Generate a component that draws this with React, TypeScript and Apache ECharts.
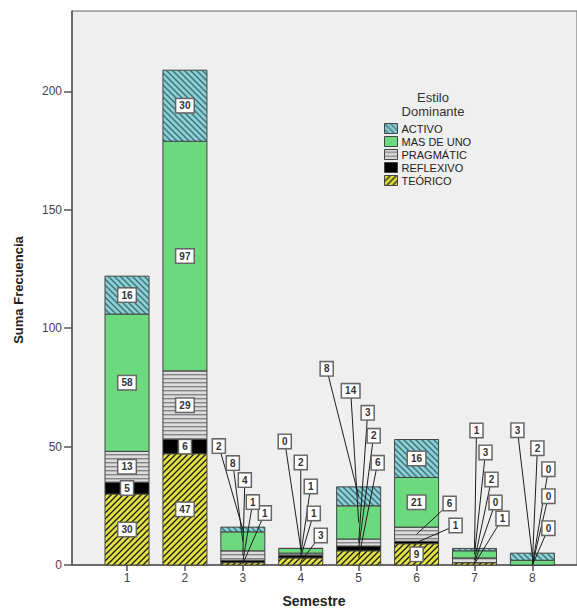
import React, { useEffect, useRef } from "react";
import * as echarts from "echarts";

// ---- data ----
const semesters = [1, 2, 3, 4, 5, 6, 7, 8];
const seriesNames = ["TEÓRICO", "REFLEXIVO", "PRAGMÁTIC", "MAS DE UNO", "ACTIVO"];
const teorico = [30, 47, 1, 3, 6, 9, 1, 0];
const reflexivo = [5, 6, 1, 1, 2, 1, 0, 0];
const pragmatic = [13, 29, 4, 1, 3, 6, 2, 0];
const masDeUno = [58, 97, 8, 2, 14, 21, 3, 2];
const activo = [16, 30, 2, 0, 8, 16, 1, 3];
const yTicks = [0, 50, 100, 150, 200];
const legendOrder = ["ACTIVO", "MAS DE UNO", "PRAGMÁTIC", "REFLEXIVO", "TEÓRICO"];

// ---- layout of callout labels (pixel offsets from bar top), keyed "semester-seriesIndex" ----
const calloutOffsets: Record<string, [number, number]> = {
  "3-0": [22, -14], "3-1": [10, -25], "3-2": [2, -47], "3-3": [-10, -64], "3-4": [-24, -81],
  "4-0": [20, -13], "4-1": [13, -35], "4-2": [10, -62], "4-3": [0, -86], "4-4": [-16, -107],
  "5-0": [19, -24], "5-1": [15, -51], "5-2": [9, -74], "5-3": [-8, -96], "5-4": [-32, -118],
  "6-1": [39, 86], "6-2": [33, 64],
  "7-0": [28, -30], "7-1": [21, -46], "7-2": [17, -69], "7-3": [11, -96], "7-4": [2, -118],
  "8-0": [16, -25], "8-1": [16, -57], "8-2": [16, -84], "8-3": [5, -105], "8-4": [-15, -123],
};

const FONT = '"Liberation Sans", Arial, sans-serif';
const BAR_WIDTH_UNITS = 0.76;

function tile(w: number, h: number, draw: (ctx: CanvasRenderingContext2D) => void) {
  const c = document.createElement("canvas");
  c.width = w;
  c.height = h;
  const ctx = c.getContext("2d") as CanvasRenderingContext2D;
  draw(ctx);
  return { image: c, repeat: "repeat", imageWidth: w, imageHeight: h } as any;
}

const boxStyle = {
  fill: "#333333",
  fontSize: 10,
  fontWeight: "bold",
  fontFamily: FONT,
  backgroundColor: "#ffffff",
  borderColor: "#666666",
  borderWidth: 1.5,
  padding: [2, 3, 1, 3],
  align: "center",
  verticalAlign: "middle",
};

export default function App() {
  const ref = useRef<HTMLDivElement>(null);

  useEffect(() => {
    if (!ref.current) return;
    const chart = echarts.init(ref.current, undefined, { renderer: "svg" });

    const yellowHatch = tile(6, 6, (ctx) => {
      ctx.fillStyle = "#e2e246";
      ctx.fillRect(0, 0, 6, 6);
      ctx.strokeStyle = "#1a1a10";
      ctx.lineWidth = 1.3;
      ctx.beginPath();
      ctx.moveTo(-1, 7); ctx.lineTo(7, -1);
      ctx.moveTo(-1, 1); ctx.lineTo(1, -1);
      ctx.moveTo(5, 7); ctx.lineTo(7, 5);
      ctx.stroke();
    });
    const tealHatch = tile(6, 6, (ctx) => {
      ctx.fillStyle = "#8ccfd6";
      ctx.fillRect(0, 0, 6, 6);
      ctx.strokeStyle = "#3f7378";
      ctx.lineWidth = 1.4;
      ctx.beginPath();
      ctx.moveTo(-1, -1); ctx.lineTo(7, 7);
      ctx.moveTo(-1, 5); ctx.lineTo(1, 7);
      ctx.moveTo(5, -1); ctx.lineTo(7, 1);
      ctx.stroke();
    });
    const grayLines = tile(4, 4, (ctx) => {
      ctx.fillStyle = "#dcdcdc";
      ctx.fillRect(0, 0, 4, 4);
      ctx.fillStyle = "#858585";
      ctx.fillRect(0, 2, 4, 1.4);
    });

    const values = [teorico, reflexivo, pragmatic, masDeUno, activo];
    const fills: any[] = [yellowHatch, "#000000", grayLines, "#6cd97e", tealHatch];

    // stacked extents per series: [x, bottom, top, count, insideLabel]
    const cum = semesters.map(() => 0);
    const barSeries = values.map((vals, si) => {
      const data = vals.map((v, i) => {
        const b = cum[i];
        cum[i] += v;
        const inside = calloutOffsets[`${semesters[i]}-${si}`] ? 0 : 1;
        return [semesters[i], b, b + v, v, inside];
      });
      return {
        name: seriesNames[si],
        type: "custom",
        encode: { x: 0, y: [1, 2] },
        itemStyle: { color: fills[si], borderColor: "#444444", borderWidth: 1 },
        data,
        renderItem: (_params: any, api: any) => {
          const x = api.value(0);
          const b = api.value(1);
          const t = api.value(2);
          const p0 = api.coord([x, b]);
          const p1 = api.coord([x, t]);
          const w = api.size([BAR_WIDTH_UNITS, 0])[0];
          const children: any[] = [
            {
              type: "rect",
              shape: { x: p0[0] - w / 2, y: p1[1], width: w, height: p0[1] - p1[1] },
              style: api.style(),
            },
          ];
          if (api.value(4)) {
            children.push({
              type: "text",
              z2: 20,
              x: p0[0],
              y: (p0[1] + p1[1]) / 2,
              style: { ...boxStyle, text: String(api.value(3)) },
            });
          }
          return { type: "group", children };
        },
      };
    });

    // callout items: [x, segment middle, bar total, count, dx, dy]
    const calloutData: number[][] = [];
    semesters.forEach((s, i) => {
      let c = 0;
      const total = values.reduce((a, arr) => a + arr[i], 0);
      values.forEach((arr, si) => {
        const v = arr[i];
        const off = calloutOffsets[`${s}-${si}`];
        if (off) calloutData.push([s, c + v / 2, total, v, off[0], off[1]]);
        c += v;
      });
    });

    const calloutSeries = {
      name: "callouts",
      type: "custom",
      clip: false,
      z: 5,
      encode: { x: 0, y: 1 },
      data: calloutData,
      renderItem: (_params: any, api: any) => {
        const x = api.value(0);
        const p = api.coord([x, api.value(1)]);
        const t = api.coord([x, api.value(2)]);
        const lx = t[0] + api.value(4);
        const ly = t[1] + api.value(5);
        return {
          type: "group",
          children: [
            {
              type: "line",
              z2: 1,
              shape: { x1: lx, y1: ly, x2: p[0], y2: p[1] },
              style: { stroke: "#1e1e1e", lineWidth: 1 },
            },
            {
              type: "text",
              z2: 10,
              x: lx,
              y: ly,
              style: { ...boxStyle, text: String(api.value(3)) },
            },
          ],
        };
      },
    };

    chart.setOption({
      animation: false,
      backgroundColor: "#ffffff",
      textStyle: { fontFamily: FONT },
      grid: {
        show: true,
        left: 72,
        right: -1,
        top: 11,
        bottom: 43,
        backgroundColor: "#efefef",
        borderColor: "#666666",
        borderWidth: 1,
        containLabel: false,
      },
      xAxis: {
        type: "value",
        min: 0.05,
        max: 8.77,
        splitLine: { show: false },
        axisLine: { show: true, lineStyle: { color: "#555555", width: 1.5 } },
        axisTick: { show: true, customValues: semesters, length: 6, lineStyle: { color: "#555555", width: 1.5 } },
        axisLabel: { customValues: semesters, color: "#444444", fontSize: 12, margin: 7, fontFamily: FONT },
      },
      yAxis: {
        type: "value",
        min: 0,
        max: 234,
        splitLine: { show: false },
        axisLine: { show: true, lineStyle: { color: "#555555", width: 1.5 } },
        axisTick: { show: true, customValues: yTicks, length: 8, lineStyle: { color: "#555555", width: 1.5 } },
        axisLabel: { customValues: yTicks, color: "#444444", fontSize: 12, margin: 10, fontFamily: FONT },
      },
      legend: {
        data: legendOrder,
        orient: "vertical",
        left: 384,
        top: 123,
        padding: 0,
        itemWidth: 13,
        itemHeight: 10,
        itemGap: 2,
        icon: "rect",
        itemStyle: { borderColor: "#444444", borderWidth: 1 },
        textStyle: { fontSize: 11, color: "#222222", fontFamily: FONT, padding: [0, 0, 0, -1] },
      },
      graphic: [
        {
          type: "text",
          x: 433,
          y: 104,
          style: {
            text: "Estilo\nDominante",
            align: "center",
            verticalAlign: "middle",
            fill: "#333333",
            fontSize: 13,
            lineHeight: 14,
            fontFamily: FONT,
          },
        },
        {
          type: "text",
          x: 314,
          y: 601,
          style: {
            text: "Semestre",
            align: "center",
            verticalAlign: "middle",
            fill: "#222222",
            fontSize: 14,
            fontWeight: "bold",
            fontFamily: FONT,
          },
        },
        {
          type: "text",
          x: 18,
          y: 290,
          rotation: Math.PI / 2,
          style: {
            text: "Suma Frecuencia",
            align: "center",
            verticalAlign: "middle",
            fill: "#222222",
            fontSize: 13,
            fontWeight: "bold",
            fontFamily: FONT,
          },
        },
      ],
      series: [...barSeries, calloutSeries],
    });

    return () => chart.dispose();
  }, []);

  return (
    <div
      ref={ref}
      style={{ position: "fixed", left: 0, top: 0, width: 577, height: 608, background: "#ffffff" }}
    />
  );
}
